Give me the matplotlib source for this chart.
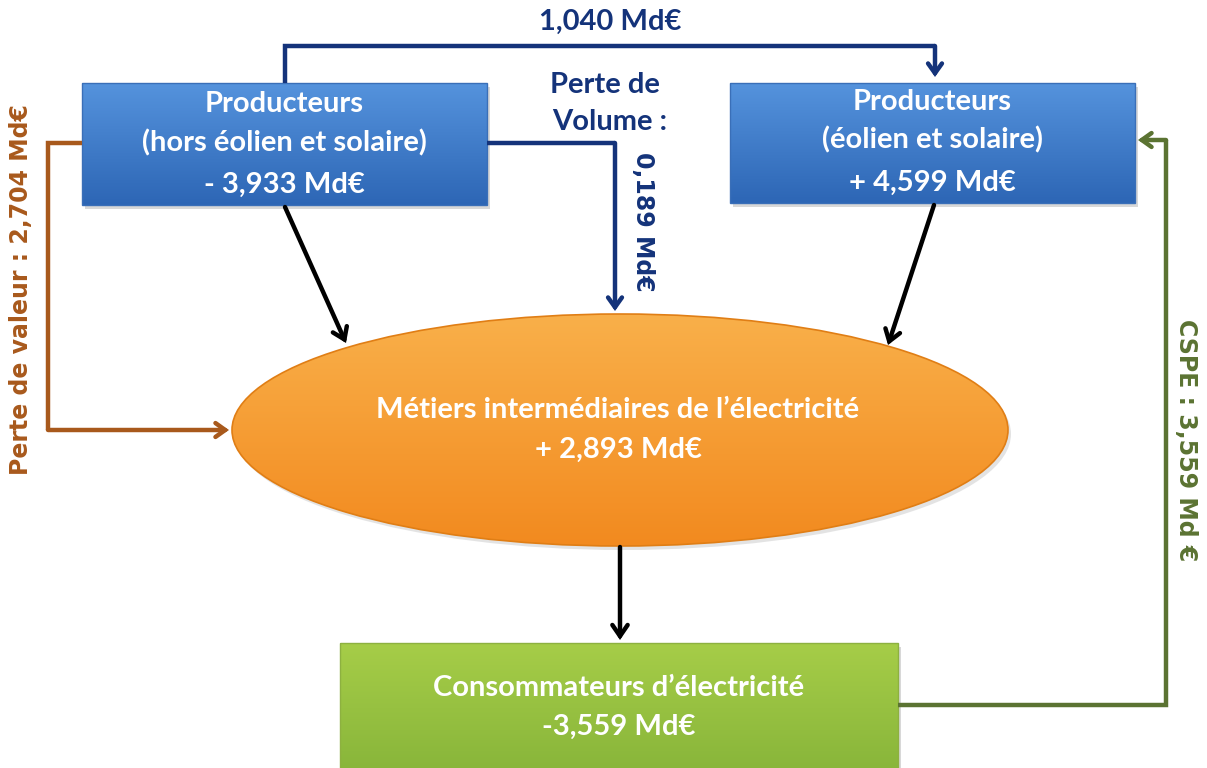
import matplotlib
matplotlib.use("Agg")
import matplotlib.pyplot as plt
import numpy as np
from matplotlib.patches import Rectangle, Ellipse, FancyArrowPatch
from matplotlib.colors import LinearSegmentedColormap

plt.rcParams['font.family'] = ['Lato', 'DejaVu Sans']

# ---- data ----
node_titles = [["Producteurs", "(hors éolien et solaire)"], ["Producteurs", "(éolien et solaire)"],
               ["Métiers intermédiaires de l’électricité"], ["Consommateurs d’électricité"]]
node_values = ["- 3,933 Md€", "+ 4,599 Md€", "+ 2,893 Md€", "-3,559 Md€"]
flow_labels = ["1,040 Md€", "Perte de", "Volume :", "0,189 Md€", "Perte de valeur : 2,704 Md€", "CSPE : 3,559 Md €"]

W, H = 1207, 768
fig = plt.figure(figsize=(W / 100, H / 100), dpi=100)
ax = fig.add_axes([0, 0, 1, 1])
ax.set_xlim(0, W)
ax.set_ylim(H, 0)
ax.axis('off')

navy = '#14337a'
brown = '#a8591c'
olive = '#5b7332'
FS = 21


def grad_patch(patch, c_top, c_bot, bbox):
    x0, x1, y0, y1 = bbox
    cmap = LinearSegmentedColormap.from_list('g', [c_top, c_bot])
    grad = np.linspace(0, 1, 256).reshape(-1, 1)
    im = ax.imshow(grad, cmap=cmap, extent=(x0, x1, y1, y0), aspect='auto', zorder=2)
    ax.add_patch(patch)
    im.set_clip_path(patch)


# shadows
for (x, y, w, h) in [(82, 83, 405, 122), (730, 83, 405, 120), (340, 643, 558, 130)]:
    ax.add_patch(Rectangle((x + 3, y + 4), w, h, facecolor='#c8c8c8', edgecolor='none', zorder=1, alpha=0.7))
ax.add_patch(Ellipse((623, 434), 776, 232, facecolor='#d8d8d8', edgecolor='none', zorder=1, alpha=0.7))

# boxes
r1 = Rectangle((82, 83), 405, 122, facecolor='none', edgecolor='#3a6fb8', lw=1, zorder=3)
grad_patch(r1, '#5593dd', '#2d66b5', (82, 487, 83, 205))
r2 = Rectangle((730, 83), 405, 120, facecolor='none', edgecolor='#3a6fb8', lw=1, zorder=3)
grad_patch(r2, '#5593dd', '#2d66b5', (730, 1135, 83, 203))
el = Ellipse((620, 430), 776, 232, facecolor='none', edgecolor='#e07e15', lw=1.2, zorder=3)
grad_patch(el, '#f9b04a', '#f28a1f', (232, 1008, 314, 546))
r3 = Rectangle((340, 643), 558, 130, facecolor='none', edgecolor='#8db140', lw=1, zorder=3)
grad_patch(r3, '#a6cd48', '#88b53a', (340, 898, 643, 773))

tk = dict(color='white', fontweight='bold', ha='center', va='center', zorder=5, fontsize=FS)
ax.text(284, 104, node_titles[0][0], **tk)
ax.text(284, 143, node_titles[0][1], **tk)
ax.text(284, 185, node_values[0], **tk)
ax.text(932, 102, node_titles[1][0], **tk)
ax.text(932, 140, node_titles[1][1], **tk)
ax.text(932, 183, node_values[1], **tk)
ax.text(618, 410, node_titles[2][0], **tk)
ax.text(618, 450, node_values[2], **tk)
ax.text(619, 688, node_titles[3][0], **tk)
ax.text(619, 727, node_values[3], **tk)


def poly_arrow(pts, color, lw=3.2, hl=7, hw=5):
    xs = [p[0] for p in pts]
    ys = [p[1] for p in pts]
    ax.plot(xs[:-1], ys[:-1], color=color, lw=lw, solid_joinstyle='miter', solid_capstyle='butt', zorder=4)
    a = FancyArrowPatch(pts[-2], pts[-1], arrowstyle=f'->,head_length={hl},head_width={hw}',
                        color=color, lw=lw, shrinkA=0, shrinkB=0, zorder=4, joinstyle='miter')
    ax.add_patch(a)


# navy flows
poly_arrow([(285, 83), (285, 46), (935, 46), (935, 77)], navy)
poly_arrow([(487, 143), (615, 143), (615, 311)], navy)
# brown flow
poly_arrow([(82, 143), (48, 143), (48, 430), (229, 430)], brown)
# olive flow
poly_arrow([(898, 705), (1166, 705), (1166, 140), (1138, 140)], olive)
# black flows
poly_arrow([(285, 207), (346, 343)], 'black', hl=8, hw=5.5)
poly_arrow([(934, 205), (888, 345)], 'black', hl=8, hw=5.5)
poly_arrow([(620, 547), (620, 640)], 'black', hl=8, hw=5.5)

# flow labels
ax.text(610, 22, flow_labels[0], color=navy, fontsize=FS, fontweight='bold', ha='center', va='center')
ax.text(605, 85, flow_labels[1], color=navy, fontsize=FS, fontweight='bold', ha='center', va='center')
ax.text(610, 122, flow_labels[2], color=navy, fontsize=FS, fontweight='bold', ha='center', va='center')
ax.text(643, 222, flow_labels[3], color=navy, fontsize=17, fontweight='bold', ha='center', va='center',
        rotation=-90, family='DejaVu Sans')
ax.text(21, 290, flow_labels[4], color=brown, fontsize=17, fontweight='bold', ha='center', va='center',
        rotation=90, family='DejaVu Sans')
ax.text(1186, 440, flow_labels[5], color=olive, fontsize=17, fontweight='bold', ha='center', va='center',
        rotation=-90, family='DejaVu Sans')

fig.savefig('out.png', dpi=100)
